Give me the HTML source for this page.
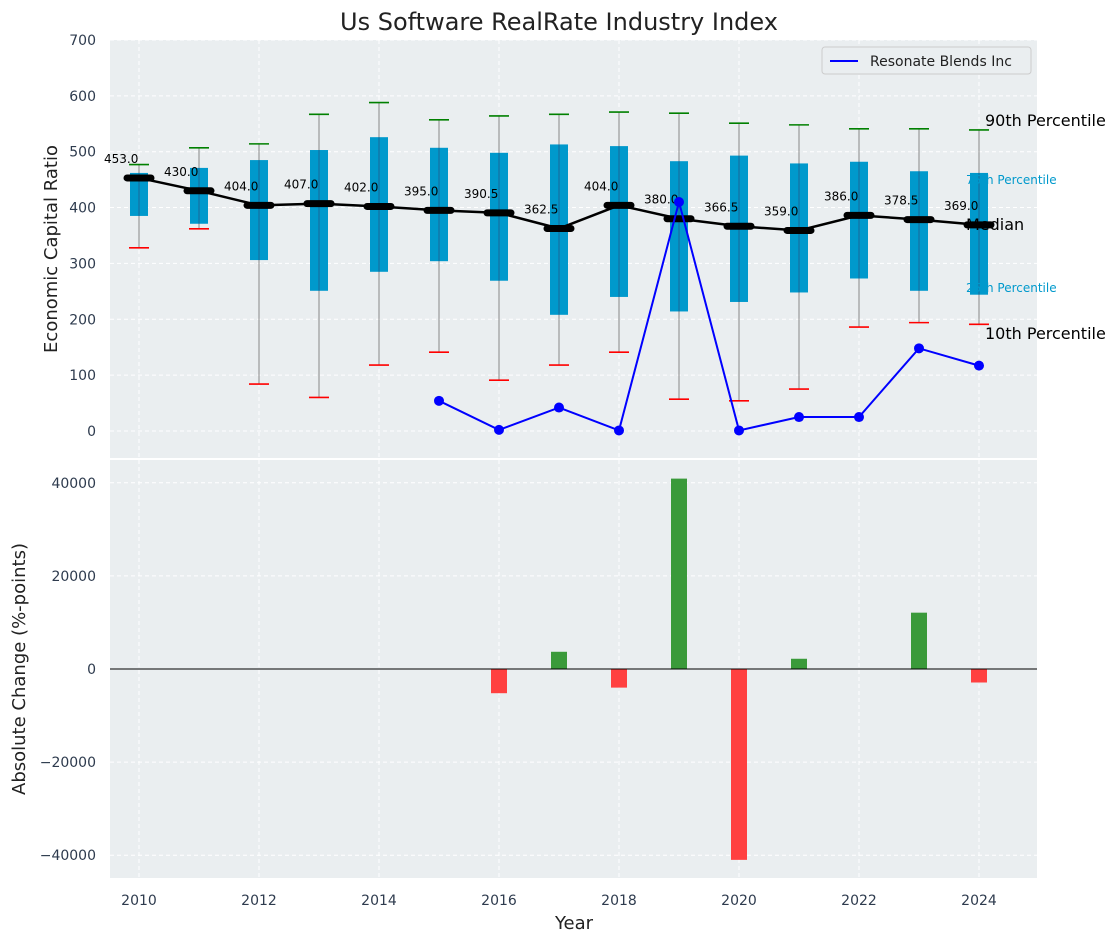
<!DOCTYPE html>
<html><head><meta charset="utf-8"><style>
body{margin:0;background:#fff;font-family:"Liberation Sans","DejaVu Sans",sans-serif}
svg text{font-family:"DejaVu Sans","Liberation Sans",sans-serif}
</style></head><body>
<svg id="c" width="1120" height="942" xmlns="http://www.w3.org/2000/svg"></svg>
<script>
const years=[2010,2011,2012,2013,2014,2015,2016,2017,2018,2019,2020,2021,2022,2023,2024];
const p90=[477,507,514,567,588,557,564,567,571,569,551,548,541,541,539];
const q3=[462,471,485,503,526,507,498,513,510,483,493,479,482,465,462];
const medians=[453,430,404,407,402,395,390.5,362.5,404,380,366.5,359,386,378.5,369];
const q1=[385,371,306,251,285,304,269,208,240,214,231,248,273,251,244];
const p10=[328,362,84,60,118,141,91,118,141,57,54,75,186,194,191];
const coYears=[2015,2016,2017,2018,2019,2020,2021,2022,2023,2024];
const coValues=[54,2,42,1,410,1,25,25,148,117];
const chgYears=[2016,2017,2018,2019,2020,2021,2022,2023,2024];
const chgValues=[-5200,3700,-4000,40900,-41000,2200,0,12100,-2900];
const topTicks=[0,100,200,300,400,500,600,700];
const botTicks=[-40000,-20000,0,20000,40000];
const xTicks=[2010,2012,2014,2016,2018,2020,2022,2024];

const NS="http://www.w3.org/2000/svg",svg=document.getElementById('c');
function el(t,a,p){const e=document.createElementNS(NS,t);for(const k in a)e.setAttribute(k,a[k]);(p||svg).appendChild(e);return e;}
const L=110,R=1037,T1=40,B1=458,T2=460,B2=878;
const x=v=>139+(v-2010)*60;
const y1=v=>431-v*0.5586;
const y2=v=>669-v*0.004655;
const axisBg='#eaeef0';

// backgrounds
let e=el('rect',{x:L,y:T1,width:R-L,height:B1-T1,fill:axisBg});

e=el('rect',{x:L,y:T2,width:R-L,height:B2-T2,fill:axisBg});


// grids
xTicks.forEach(t=>{
 el('line',{x1:x(t),x2:x(t),y1:T1,y2:B1,stroke:'#fff','stroke-dasharray':'4,3','stroke-width':1});
 el('line',{x1:x(t),x2:x(t),y1:T2,y2:B2,stroke:'#fff','stroke-dasharray':'4,3','stroke-width':1});
 e=el('text',{x:x(t),y:905,'text-anchor':'middle','font-size':14,fill:'#2e3b4e'});e.textContent=t;
 
});
topTicks.forEach(t=>{
 el('line',{x1:L,x2:R,y1:y1(t),y2:y1(t),stroke:'#fff','stroke-dasharray':'4,3'});
 e=el('text',{x:96,y:y1(t)+5,'text-anchor':'end','font-size':14,fill:'#2e3b4e'});e.textContent=t;
 
});
botTicks.forEach(t=>{
 el('line',{x1:L,x2:R,y1:y2(t),y2:y2(t),stroke:'#fff','stroke-dasharray':'4,3'});
 e=el('text',{x:96,y:y2(t)+5,'text-anchor':'end','font-size':14,fill:'#2e3b4e'});e.textContent=String(t).replace('-','\u2212');
 
});

// boxes
years.forEach((yr,i)=>{
 const cx=x(yr);
 e=el('line',{x1:cx,x2:cx,y1:y1(p90[i]),y2:y1(p10[i]),stroke:'#888','stroke-width':1});
 
 e=el('rect',{x:cx-9,y:y1(q3[i]),width:18,height:y1(q1[i])-y1(q3[i]),fill:'#0099cc'});
 
 el('line',{x1:cx,x2:cx,y1:y1(q3[i]),y2:y1(q1[i]),stroke:'#336','stroke-opacity':0.5,'stroke-width':1});
 e=el('line',{x1:cx-10,x2:cx+10,y1:y1(p90[i]),y2:y1(p90[i]),stroke:'green','stroke-width':1.6});
 
 e=el('line',{x1:cx-10,x2:cx+10,y1:y1(p10[i]),y2:y1(p10[i]),stroke:'red','stroke-width':1.6});
 
});
// median line
e=el('polyline',{points:years.map((yr,i)=>x(yr)+','+y1(medians[i])).join(' '),fill:'none',stroke:'#000','stroke-width':2.5});

years.forEach((yr,i)=>{
 e=el('line',{x1:x(yr)-12,x2:x(yr)+12,y1:y1(medians[i]),y2:y1(medians[i]),stroke:'#000','stroke-width':7,'stroke-linecap':'round'});
 
 e=el('text',{x:x(yr)-35,y:y1(medians[i])-15,'font-size':12,fill:'#000'});e.textContent=medians[i].toFixed(1);
 
});
// company line
e=el('polyline',{points:coYears.map((yr,i)=>x(yr)+','+y1(coValues[i])).join(' '),fill:'none',stroke:'#0000ff','stroke-width':2});

coYears.forEach((yr,i)=>{
 e=el('circle',{cx:x(yr),cy:y1(coValues[i]),r:5,fill:'#0000ff'});
 
});
// annotations
const ann=[['90th Percentile',985,126,16,'#000'],['75th Percentile',966,184,12,'#0099cc'],['Median',966,230,16,'#000'],['25th Percentile',966,292,12,'#0099cc'],['10th Percentile',985,339,16,'#000']];
ann.forEach(a=>{e=el('text',{x:a[1],y:a[2],'font-size':a[3],fill:a[4]});e.textContent=a[0];
 });

// bars
chgYears.forEach((yr,i)=>{
 const v=chgValues[i];const y0=y2(0),yv=y2(v);
 e=el('rect',{x:x(yr)-8,y:Math.min(y0,yv),width:16,height:Math.abs(yv-y0),fill:v>=0?'#3a9a3a':'#ff4040'});
 
});
el('line',{x1:L,x2:R,y1:y2(0),y2:y2(0),stroke:'#000','stroke-width':1});

// titles
e=el('text',{x:559,y:30,'text-anchor':'middle','font-size':24,fill:'#222'});e.textContent='Us Software RealRate Industry Index';

e=el('text',{x:574,y:929,'text-anchor':'middle','font-size':18,fill:'#222'});e.textContent='Year';

e=el('text',{x:0,y:0,'text-anchor':'middle','font-size':18,fill:'#222',transform:'translate(57,249) rotate(-90)'});e.textContent='Economic Capital Ratio';

e=el('text',{x:0,y:0,'text-anchor':'middle','font-size':18,fill:'#222',transform:'translate(25,669) rotate(-90)'});e.textContent='Absolute Change (%-points)';


// legend
const g=el('g',{});
el('rect',{x:822,y:47,width:209,height:27,fill:'#eaeef0',stroke:'#ccc',rx:3},g);
el('line',{x1:830,x2:858,y1:61,y2:61,stroke:'#0000ff','stroke-width':2},g);
e=el('text',{x:870,y:66,'font-size':14,fill:'#222'},g);e.textContent='Resonate Blends Inc';

</script>
</body></html>
